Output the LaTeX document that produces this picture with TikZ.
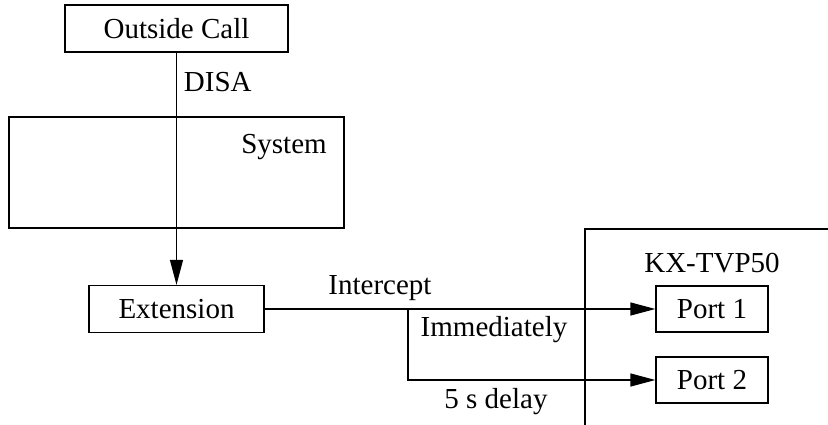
\documentclass[tikz,border=0pt]{standalone}
\usepackage{fontspec}
\setmainfont{Liberation Serif}
\usetikzlibrary{arrows.meta}

\begin{document}
\begin{tikzpicture}[x=1pt,y=-1pt,line width=1.3pt,
    every node/.style={font=\fontsize{29}{34}\selectfont},
    box/.style={draw,inner sep=0pt},
    tip/.style={-{Triangle[length=25pt,width=13pt]}}]
    \useasboundingbox (0,0) rectangle (828,425);

    % boxes
    \node[box,minimum width=223,minimum height=47] (out) at (176.5,28.5) {Outside Call};
    \node[box,minimum width=335,minimum height=111] (sys) at (176.5,172.5) {};
    \node (syslbl) at (284,147) {System};
    \node[box,minimum width=175,minimum height=47] (ext) at (176.5,309) {Extension};
    \node[box,minimum width=112,minimum height=46] (port1) at (712,309) {Port 1};
    \node[box,minimum width=112,minimum height=46] (port2) at (712,380) {Port 2};

    % KX-TVP50 frame
    \draw (585,425) |- (828,229);
    \node (kx) at (712,263) {KX-TVP50};

    % connectors
    \draw[tip] (out) -- (ext);
    \coordinate (br) at (408,309);
    \draw[tip] (ext) -- (port1);
    \draw[tip] (br) |- (port2);

    \node[anchor=west] (disa) at (180,82) {DISA};
    \node (icpt) at (380,288) {Intercept};
    \node (imm) at (494,330) {Immediately};
    \node (dly) at (496,402) {5 s delay};
\end{tikzpicture}
\end{document}
